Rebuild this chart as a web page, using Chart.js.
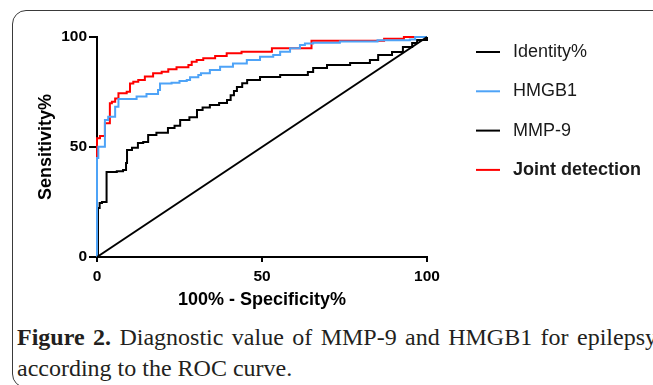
<!DOCTYPE html>
<html>
<head>
<meta charset="utf-8">
<script src="https://cdn.jsdelivr.net/npm/chart.js@4"></script>
<style>
  html, body { margin: 0; padding: 0; background: #fff; overflow: hidden; width: 653px; height: 385px; }
  .frame { position: absolute; left: 12px; top: 10px; width: 700px; height: 376px;
           border: 1px solid #3a3a3a; border-radius: 14px; }
  #roc { position: absolute; left: 0; top: 0; }
  .cap { position: absolute; left: 17px; top: 322px; width: 640px; text-align: justify;
         font-family: "Liberation Serif", "Times New Roman", serif; font-size: 24px;
         line-height: 31px; color: #231f20; }
</style>
</head>
<body>
<div class="frame"></div>
<canvas id="roc" width="653" height="312"></canvas>
<div class="cap"><b>Figure 2.</b> Diagnostic value of MMP-9 and HMGB1 for epilepsy according to the ROC curve.</div>
<script>
// ROC points: x = 100% - specificity, y = sensitivity
var identityX = [0, 100];
var identityY = [0, 100];

var hmgb1X = [0, 0, 0.4, 2.4, 3.4, 5.5, 6.5, 12, 15, 18.5, 19.1, 22.6, 25, 27.2, 28.2, 30.7, 31.5, 34.2, 37.3, 41.2, 45.4, 49.4, 53.4, 55.5, 58.5, 61.5, 63, 65.5, 73.6, 85, 94.8, 96.4, 100];
var hmgb1Y = [0, 45, 50.1, 62.3, 63.8, 68.3, 71.8, 72.9, 74.1, 75.9, 78.9, 79.2, 80, 80.5, 81.7, 82.7, 83.5, 85, 86.5, 88, 89.5, 91, 91.8, 93.3, 94.9, 96.4, 97.1, 97.4, 97.9, 98.5, 98.9, 100, 100];

var mmp9X = [0, 0.3, 0.8, 1.5, 2.9, 6, 7.9, 8.8, 9.1, 10.6, 12.4, 14, 15.5, 18, 21.5, 23.5, 25.2, 28, 30.3, 32, 34.2, 37, 39.4, 40.5, 41.5, 42.4, 44, 45.5, 49.4, 55.5, 63.9, 65.5, 69.7, 76.7, 82.7, 85.2, 89.4, 92.7, 95.5, 97, 100];
var mmp9Y = [0, 22.3, 24.5, 25, 38.6, 39, 39.5, 42.7, 48.6, 49.7, 51.8, 52.3, 55.5, 56.5, 58.6, 59.7, 62.3, 63.5, 66.8, 68, 69.1, 70, 71.4, 73.5, 75.5, 77.3, 79, 80.5, 81.8, 82.7, 84.1, 85.9, 87.3, 88.2, 89.5, 91.8, 93.2, 95.5, 97.3, 98.6, 100];

var jointX = [0, 0, 0.9, 2.4, 3.9, 4.5, 5.5, 6.5, 9, 10, 11, 12.5, 14.5, 17, 19.6, 21.6, 24.1, 27.7, 28.7, 30.2, 32.2, 35.8, 39.3, 43.8, 53, 65, 87, 93, 100];
var jointY = [0, 54, 55, 60.8, 69.9, 70.6, 72.1, 74.4, 75.1, 78.9, 79.7, 80.5, 82, 83.5, 84.2, 85.3, 86.2, 87.3, 88.8, 89.5, 90.3, 91.4, 92.6, 93.3, 94.9, 98.3, 99.2, 100, 100];

var seriesNames = ['Identity%', 'HMGB1', 'MMP-9', 'Joint detection'];
var axisTicks = [0, 50, 100];

function toPoints(xs, ys) {
    return xs.map(function (x, i) { return { x: x, y: ys[i] }; });
}

Chart.defaults.font.family = '"Liberation Sans", Arial, sans-serif';
Chart.defaults.color = '#000';

// legend drawn at the right, last entry in bold
var sideLegend = {
    id: 'sideLegend',
    afterDraw: function (chart) {
        var ctx = chart.ctx;
        chart.data.datasets.forEach(function (ds, i) {
            var y = 52 + i * 39.3;
            ctx.save();
            ctx.strokeStyle = ds.borderColor;
            ctx.lineWidth = 2;
            ctx.beginPath();
            ctx.moveTo(476, y);
            ctx.lineTo(500, y);
            ctx.stroke();
            ctx.fillStyle = '#1a1a1a';
            ctx.font = (i === 3 ? 'bold ' : '') + '18px "Liberation Sans", Arial, sans-serif';
            ctx.textBaseline = 'middle';
            ctx.fillText(ds.label, 513, y);
            ctx.restore();
        });
    }
};

var ctx = document.getElementById('roc').getContext('2d');
var myChart = new Chart(ctx, {
    type: 'scatter',
    data: {
        datasets: [{
            label: seriesNames[0],
            data: toPoints(identityX, identityY),
            borderColor: '#000000',
            showLine: true
        },
        {
            label: seriesNames[1],
            data: toPoints(hmgb1X, hmgb1Y),
            borderColor: '#4ea3f7',
            showLine: true,
            stepped: 'before'
        },
        {
            label: seriesNames[2],
            data: toPoints(mmp9X, mmp9Y),
            borderColor: '#000000',
            showLine: true,
            stepped: 'before'
        },
        {
            label: seriesNames[3],
            data: toPoints(jointX, jointY),
            borderColor: '#ff0000',
            showLine: true,
            stepped: 'before'
        }]
    },
    options: {
        responsive: false,
        animation: false,
        clip: false,
        elements: {
            point: { radius: 0, hoverRadius: 0 },
            line: { borderWidth: 2, tension: 0 }
        },
        layout: { padding: { left: 0, right: 226, top: 37, bottom: 0 } },
        plugins: {
            legend: { display: false },
            tooltip: { enabled: false }
        },
        scales: {
            x: {
                type: 'linear',
                min: 0,
                max: 100,
                afterBuildTicks: function (scale) {
                    scale.ticks = axisTicks.map(function (v) { return { value: v }; });
                },
                afterFit: function (scale) { scale.height = 55; },
                border: { color: '#000', width: 2 },
                grid: { drawOnChartArea: false, drawTicks: true, tickLength: 5, color: '#000', lineWidth: 2 },
                ticks: { padding: 5, maxRotation: 0, font: { size: 15.5, weight: 'bold' }, color: '#000' },
                title: {
                    display: true,
                    text: '100% - Specificity%',
                    font: { size: 18, weight: 'bold' },
                    color: '#000',
                    padding: { top: 0, bottom: 1 }
                }
            },
            y: {
                type: 'linear',
                min: 0,
                max: 100,
                afterBuildTicks: function (scale) {
                    scale.ticks = axisTicks.map(function (v) { return { value: v }; });
                },
                afterFit: function (scale) { scale.width = 97; },
                border: { color: '#000', width: 2 },
                grid: { drawOnChartArea: false, drawTicks: true, tickLength: 8, color: '#000', lineWidth: 2 },
                ticks: { padding: 2, font: { size: 15.5, weight: 'bold' }, color: '#000' },
                title: {
                    display: true,
                    text: 'Sensitivity%',
                    font: { size: 18, weight: 'bold' },
                    color: '#000',
                    padding: { top: 35, bottom: 0 }
                }
            }
        }
    },
    plugins: [sideLegend]
});
</script>
</body>
</html>
